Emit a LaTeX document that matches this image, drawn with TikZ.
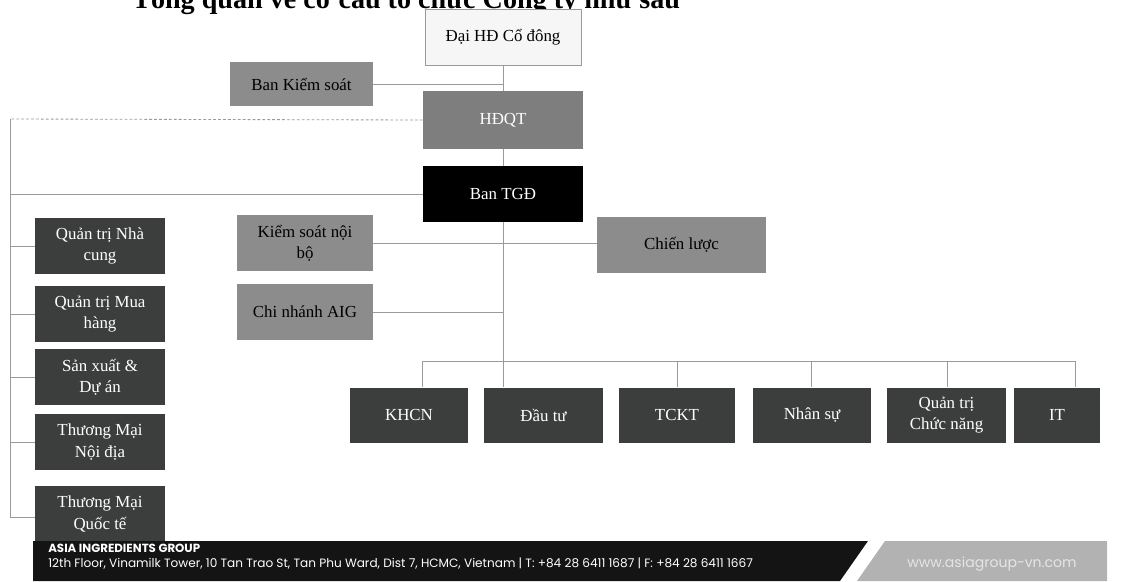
\documentclass[tikz,border=0pt]{standalone}
\usepackage{fontspec}
\setmainfont{Liberation Serif}
\newfontfamily\footerfont{Poppins}
\usetikzlibrary{shapes}

\definecolor{boxgray}{HTML}{8C8C8C}
\definecolor{boxdark}{HTML}{3B3E3D}
\definecolor{linegray}{HTML}{9A9A9A}

\begin{document}
\begin{tikzpicture}[x=0.025cm, y=-0.025cm]
	\tikzstyle{boxStyle}=[shape = rectangle, inner sep = 2pt, align = center, font = \fontsize{12}{15}\selectfont]
	\tikzstyle{lightStyle}=[boxStyle, draw = linegray, fill = gray!7, text = black]
	\tikzstyle{grayStyle}=[boxStyle, fill = boxgray, text = black]
	\tikzstyle{midStyle}=[boxStyle, fill = boxgray!90!black, text = white]
	\tikzstyle{darkStyle}=[boxStyle, fill = boxdark, text = white]
	\tikzstyle{lineStyle}=[draw = linegray, line width = 0.6pt]
	\tikzstyle{dashStyle}=[lineStyle, dash pattern = on 2pt off 1.5pt]
	\useasboundingbox (0,0) rectangle (1124,581);
	% title, cut at the top of the page
	\node[anchor = base west, inner sep = 0pt, font = \bfseries\fontsize{20}{22}\selectfont] (title) at (132,8) {Tổng quan về cơ cấu tổ chức Công ty như sau};
	% top of the chart
	\node[lightStyle, minimum width = 3.9cm, minimum height = 1.4cm] (dhcd) at (503,37) {Đại HĐ Cổ đông};
	\node[grayStyle, minimum width = 3.575cm, minimum height = 1.1cm] (bks) at (301.5,84) {Ban Kiểm soát};
	\node[midStyle, minimum width = 4.0cm, minimum height = 1.425cm] (hdqt) at (503,120) {HĐQT};
	\node[boxStyle, fill = black, text = white, minimum width = 4.0cm, minimum height = 1.4cm] (tgd) at (503,194) {Ban TGĐ};
	% left column
	\node[darkStyle, minimum width = 3.25cm, minimum height = 1.42cm] (qtnc) at (100,246) {Quản trị Nhà\\cung};
	\node[darkStyle, minimum width = 3.25cm, minimum height = 1.42cm] (qtmh) at (100,314) {Quản trị Mua\\hàng};
	\node[darkStyle, minimum width = 3.25cm, minimum height = 1.38cm] (sxda) at (100,377) {Sản xuất \&\\Dự án};
	\node[darkStyle, minimum width = 3.25cm, minimum height = 1.38cm] (tmnd) at (100,442) {Thương Mại\\Nội địa};
	\node[darkStyle, minimum width = 3.25cm, minimum height = 1.4cm] (tmqt) at (100,514) {Thương Mại\\Quốc tế};
	% middle
	\node[grayStyle, minimum width = 3.375cm, minimum height = 1.38cm] (ksnb) at (305,243) {Kiểm soát nội\\bộ};
	\node[grayStyle, minimum width = 4.225cm, minimum height = 1.38cm] (cl) at (681.5,245) {Chiến lược};
	\node[grayStyle, minimum width = 3.375cm, minimum height = 1.4cm] (cn) at (305,312) {Chi nhánh AIG};
	% bottom row
	\node[darkStyle, minimum width = 2.95cm, minimum height = 1.375cm] (khcn) at (409,415) {KHCN};
	\node[darkStyle, minimum width = 2.95cm, minimum height = 1.375cm] (dautu) at (543.5,415) {Đầu tư};
	\node[darkStyle, minimum width = 2.9cm, minimum height = 1.375cm] (tckt) at (677,415) {TCKT};
	\node[darkStyle, minimum width = 2.95cm, minimum height = 1.375cm] (nhansu) at (812,415) {Nhân sự};
	\node[darkStyle, minimum width = 2.95cm, minimum height = 1.375cm] (qtcn) at (946.5,415) {Quản trị\\Chức năng};
	\node[darkStyle, minimum width = 2.15cm, minimum height = 1.375cm] (it) at (1057,415) {IT};
	% connectors
	\coordinate (ltop) at (10,119);
	\coordinate (lbot) at (10,517);
	\coordinate (busy) at (0,361);
	\draw[lineStyle] (dhcd.south) -- (hdqt.north);
	\draw[lineStyle] (bks.east) -- (bks.east -| dhcd.south);
	\draw[lineStyle] (hdqt.south) -- (tgd.north);
	\draw[dashStyle] (hdqt.west) -- (ltop);
	\draw[lineStyle] (ltop) -- (lbot);
	\draw[lineStyle] (tgd.west) -- (tgd.west -| ltop);
	\foreach \n in {qtnc, qtmh, sxda, tmnd}
		\draw[lineStyle] (\n.west -| ltop) -- (\n.west);
	\draw[lineStyle] (lbot) -- (lbot -| tmqt.west);
	\draw[lineStyle] (ksnb.east) -- (ksnb.east -| cl.west);
	\draw[lineStyle] (cn.east) -- (cn.east -| tgd.south);
	\draw[lineStyle] (tgd.south) -- (tgd.south |- busy);
	\foreach \n/\x in {khcn/422, dautu/503, tckt/677, nhansu/811, qtcn/947, it/1075} {
		\coordinate (d\n) at (\x,361);
		\draw[lineStyle] (d\n) -- (d\n |- \n.north);
	}
	\draw[lineStyle] (dkhcn) -- (dit);
	% footer band
	\fill[black!92] (33,541) -- (868,541) -- (840,581) -- (33,581) -- cycle;
	\fill[gray!60] (885,541) -- (1107,541) -- (1107,581) -- (857,581) -- cycle;
	\node[anchor = base west, inner sep = 0pt, text = white, font = \footerfont\bfseries\fontsize{8.4}{9}\selectfont] (fname) at (48,552) {ASIA INGREDIENTS GROUP};
	\node[anchor = base west, inner sep = 0pt, text = white, font = \footerfont\fontsize{8.6}{9}\selectfont] (faddr) at (48,567) {12th Floor, Vinamilk Tower, 10 Tan Trao St, Tan Phu Ward, Dist 7, HCMC, Vietnam | T: +84 28 6411 1687 | F: +84 28 6411 1667};
	\node[anchor = base, inner sep = 0pt, text = gray!20, font = \footerfont\fontsize{10}{11}\selectfont] (fweb) at (992,567) {www.asiagroup-vn.com};
\end{tikzpicture}
\end{document}
